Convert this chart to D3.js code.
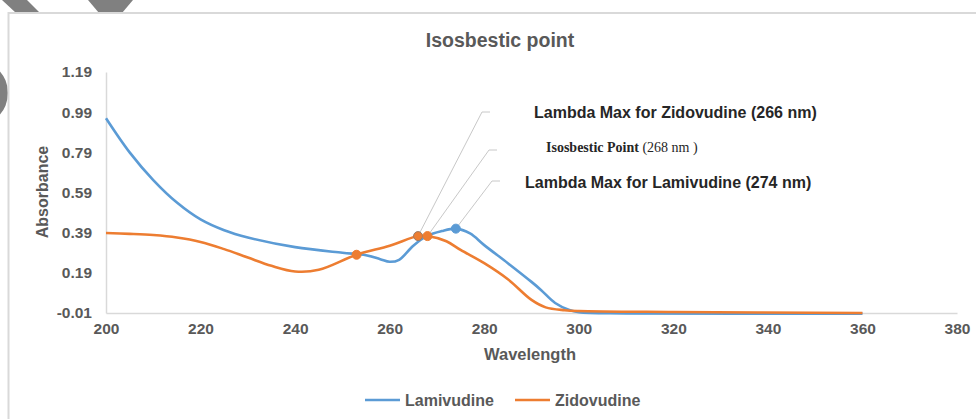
<!DOCTYPE html>
<html>
<head>
<meta charset="utf-8">
<script src="https://cdn.jsdelivr.net/npm/d3@7"></script>
<style>
  html, body { margin: 0; padding: 0; background: #ffffff; }
  svg { display: block; }
  text { font-family: "Liberation Sans", Arial, sans-serif; }
</style>
</head>
<body>
<svg id="chart" width="976" height="419"></svg>
<script>
// Absorption spectra (absorbance vs wavelength, nm)
const lamWavelength = [200,205,210,215,220,225,230,240,250,255,258,260,262,265,268,271,274,277,280,285,290,292,295,298,300,310,360];
const lamAbsorbance = [0.96,0.79,0.652,0.54,0.456,0.402,0.366,0.318,0.29,0.278,0.258,0.245,0.255,0.325,0.375,0.398,0.41,0.386,0.328,0.238,0.145,0.105,0.04,0.005,-0.006,-0.012,-0.013];

const zidWavelength = [200,205,210,215,220,225,230,235,240,245,253,260,266,268,272,275,280,285,290,293,297,300,320,360];
const zidAbsorbance = [0.388,0.384,0.378,0.366,0.344,0.308,0.266,0.225,0.197,0.205,0.28,0.325,0.373,0.373,0.347,0.304,0.238,0.158,0.055,0.018,0.004,0.0,-0.005,-0.01];

const seriesNames = ["Lamivudine", "Zidovudine"];
const seriesColors = ["#5b9bd5", "#ed7d31"];

const xTickValues = [200,220,240,260,280,300,320,340,360,380];
const yTickValues = [-0.01,0.19,0.39,0.59,0.79,0.99,1.19];
const yTickLabels = ["-0.01","0.19","0.39","0.59","0.79","0.99","1.19"];

// Highlighted points: series index and wavelength
const markerSeries = [1, 1, 1, 0];
const markerWavelength = [253, 266, 268, 274];

// Callout labels: which marker they point to
const calloutMarker = [1, 2, 3];

const svg = d3.select("#chart");

// Decorative shapes behind the chart frame (top-left corner)
const deco = svg.append("g").attr("fill", "#808080");
deco.append("path").attr("d", "M2,0 L27,0 L40,13 L16,13 Z");
deco.append("path").attr("d", "M88,0 L133,0 L122,13 L99,13 Z");
deco.append("path").attr("d", d3.arc()({innerRadius: 22, outerRadius: 33, startAngle: 0, endAngle: Math.PI}))
  .attr("transform", "translate(-25,93)");

// Chart frame
svg.append("rect")
  .attr("x", 8.5).attr("y", 13).attr("width", 1000).attr("height", 500)
  .attr("fill", "#ffffff").attr("stroke", "#d9d9d9").attr("stroke-width", 2);

const x = d3.scaleLinear().domain([200, 380]).range([106, 957]);
const y = d3.scaleLinear().domain([-0.01, 1.19]).range([313, 72]);

// Axes
const xAxis = svg.append("g")
  .attr("transform", `translate(0,${y(-0.01)})`)
  .call(d3.axisBottom(x).tickValues(xTickValues).tickSize(0).tickPadding(10).tickFormat(d3.format("d")));
const yAxis = svg.append("g")
  .attr("transform", `translate(${x(200)},0)`)
  .call(d3.axisLeft(y).tickValues(yTickValues).tickSize(0).tickPadding(14)
    .tickFormat((d, i) => yTickLabels[i]));

[xAxis, yAxis].forEach(g => {
  g.select(".domain").attr("stroke", "#d9d9d9").attr("stroke-width", 1.5);
  g.selectAll(".tick text")
    .attr("fill", "#595959")
    .style("font-family", "'Liberation Sans', Arial, sans-serif")
    .style("font-size", "15.5px")
    .style("font-weight", "bold");
});

// Series lines
const series = [
  lamWavelength.map((w, i) => [w, lamAbsorbance[i]]),
  zidWavelength.map((w, i) => [w, zidAbsorbance[i]])
];
const line = d3.line().x(d => x(d[0])).y(d => y(d[1])).curve(d3.curveCatmullRom.alpha(0.5));

series.forEach((s, i) => {
  svg.append("path")
    .datum(s)
    .attr("fill", "none")
    .attr("stroke", seriesColors[i])
    .attr("stroke-width", 2.6)
    .attr("stroke-linejoin", "round")
    .attr("d", line);
});

// Marker positions from the series data
const markers = markerSeries.map((si, i) => {
  const s = series[si];
  const pt = s.find(d => d[0] === markerWavelength[i]);
  return { si, wl: pt[0], val: pt[1] };
});

// Callout leader lines
const calloutTops = [[482, 112], [489, 150], [492, 181]];
calloutMarker.forEach((mi, k) => {
  const m = markers[mi];
  const [tx, ty] = calloutTops[k];
  svg.append("path")
    .attr("d", `M${x(m.wl)},${y(m.val)} L${tx},${ty} L${tx + 8},${ty}`)
    .attr("fill", "none")
    .attr("stroke", "#c8c8c8")
    .attr("stroke-width", 1);
});

// Markers
svg.append("g").selectAll("circle")
  .data(markers)
  .join("circle")
  .attr("cx", d => x(d.wl))
  .attr("cy", d => y(d.val))
  .attr("r", 4.5)
  .attr("fill", d => seriesColors[d.si])
  .attr("stroke", (d, i) => i === 1 ? "#9c7b66" : seriesColors[d.si])
  .attr("stroke-width", 1);

// Callout labels
svg.append("text")
  .attr("x", 534).attr("y", 118)
  .attr("fill", "#262626")
  .style("font-size", "16px").style("font-weight", "bold")
  .text("Lambda Max for Zidovudine (266 nm)");

const iso = svg.append("text")
  .attr("x", 546).attr("y", 152)
  .attr("fill", "#262626")
  .style("font-family", "'Liberation Serif', 'Times New Roman', serif")
  .style("font-size", "14px");
iso.append("tspan").style("font-weight", "bold").style("font-family", "'Liberation Serif', serif").text("Isosbestic Point");
iso.append("tspan").style("font-family", "'Liberation Serif', serif").text(" (268 nm )");

svg.append("text")
  .attr("x", 525).attr("y", 188)
  .attr("fill", "#262626")
  .style("font-size", "16px").style("font-weight", "bold")
  .text("Lambda Max for Lamivudine (274 nm)");

// Title
svg.append("text")
  .attr("x", 500).attr("y", 47)
  .attr("text-anchor", "middle")
  .attr("fill", "#595959")
  .style("font-size", "19.5px").style("font-weight", "bold")
  .text("Isosbestic point");

// Axis titles
svg.append("text")
  .attr("x", 530).attr("y", 360)
  .attr("text-anchor", "middle")
  .attr("fill", "#595959")
  .style("font-size", "16.5px").style("font-weight", "bold")
  .text("Wavelength");

svg.append("text")
  .attr("transform", "translate(48,192) rotate(-90)")
  .attr("text-anchor", "middle")
  .attr("fill", "#595959")
  .style("font-size", "16px").style("font-weight", "bold")
  .text("Absorbance");

// Legend
const legendX = [365, 515];
const legend = svg.append("g");
seriesNames.forEach((name, i) => {
  legend.append("line")
    .attr("x1", legendX[i]).attr("x2", legendX[i] + 35)
    .attr("y1", 400).attr("y2", 400)
    .attr("stroke", seriesColors[i]).attr("stroke-width", 2.6);
  legend.append("text")
    .attr("x", legendX[i] + 40).attr("y", 406)
    .attr("fill", "#595959")
    .style("font-size", "16px").style("font-weight", "bold")
    .text(name);
});
</script>
</body>
</html>
